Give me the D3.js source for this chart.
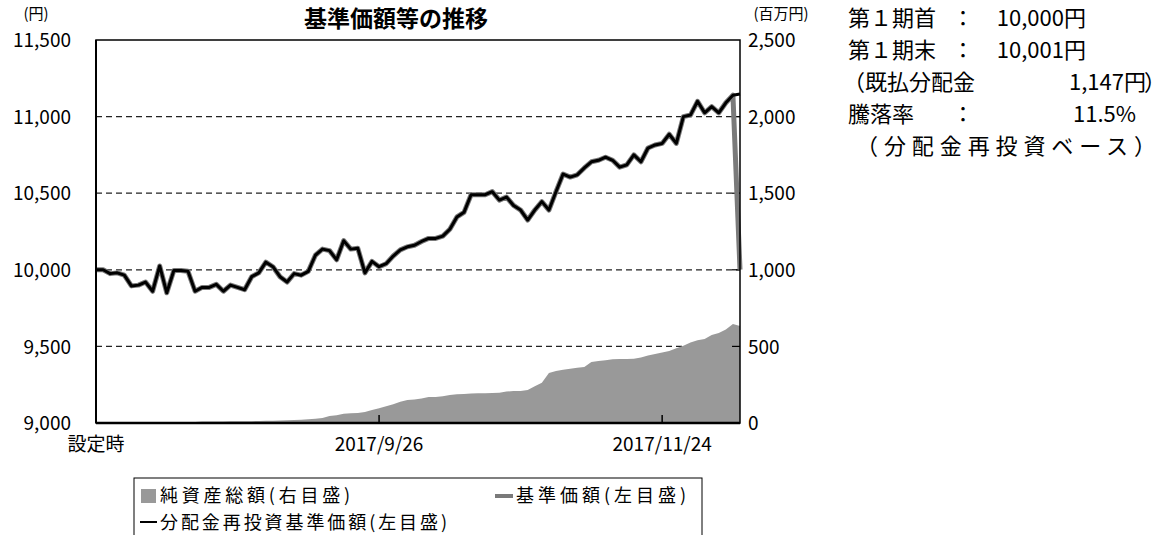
<!DOCTYPE html>
<html>
<head>
<meta charset="utf-8">
<script src="https://cdn.jsdelivr.net/npm/d3@7"></script>
<style>
  body { margin: 0; background: #ffffff; }
  text { font-family: "Noto Sans CJK JP", sans-serif; fill: #000; }
</style>
</head>
<body>
<div id="chart"></div>
<script>
// 分配金再投資基準価額（左目盛）
var navReinvest = [
	10000, 10000, 9975, 9980, 9965, 9895, 9900, 9920, 9860, 10025,
	9850, 9995, 9995, 9990, 9860, 9885, 9885, 9905, 9860, 9900,
	9885, 9870, 9955, 9980, 10050, 10020, 9955, 9920, 9975, 9965,
	9990, 10095, 10135, 10125, 10065, 10190, 10135, 10140, 9980, 10055,
	10020, 10040, 10090, 10130, 10150, 10160, 10185, 10205, 10205, 10220,
	10265, 10345, 10375, 10490, 10490, 10490, 10510, 10455, 10475, 10420,
	10390, 10325, 10390, 10445, 10390, 10510, 10625, 10605, 10620, 10665,
	10705, 10715, 10735, 10715, 10670, 10685, 10750, 10705, 10795, 10815,
	10825, 10885, 10825, 11000, 11010, 11100, 11025, 11065, 11025, 11090,
	11140, 11148
];
// 基準価額（左目盛）
var navBase = [
	10000, 10000, 9975, 9980, 9965, 9895, 9900, 9920, 9860, 10025,
	9850, 9995, 9995, 9990, 9860, 9885, 9885, 9905, 9860, 9900,
	9885, 9870, 9955, 9980, 10050, 10020, 9955, 9920, 9975, 9965,
	9990, 10095, 10135, 10125, 10065, 10190, 10135, 10140, 9980, 10055,
	10020, 10040, 10090, 10130, 10150, 10160, 10185, 10205, 10205, 10220,
	10265, 10345, 10375, 10490, 10490, 10490, 10510, 10455, 10475, 10420,
	10390, 10325, 10390, 10445, 10390, 10510, 10625, 10605, 10620, 10665,
	10705, 10715, 10735, 10715, 10670, 10685, 10750, 10705, 10795, 10815,
	10825, 10885, 10825, 11000, 11010, 11100, 11025, 11065, 11025, 11090,
	11140, 10001
];
// 純資産総額（右目盛, 百万円）
var netAssets = [
	0, 1, 1, 2, 2, 2, 3, 3, 3, 4,
	4, 5, 5, 6, 6, 9, 10, 10, 10, 11,
	11, 12, 12, 13, 14, 15, 16, 18, 20, 22,
	25, 28, 32, 45, 50, 60, 64, 66, 72, 85,
	97, 110, 122, 138, 150, 153, 160, 170, 170, 175,
	183, 187, 190, 192, 194, 195, 196, 197, 205, 209,
	209, 215, 240, 262, 326, 340, 348, 354, 360, 366,
	398, 405, 410, 416, 418, 418, 420, 428, 440, 450,
	460, 470, 488, 505, 525, 540, 548, 574, 587, 610,
	646, 633
];
var leftTicks = [9000, 9500, 10000, 10500, 11000, 11500];
var rightTicks = [0, 500, 1000, 1500, 2000, 2500];
var gridTicks = [9500, 10000, 10500, 11000];
var xLabels = [
	{"i": 0, "label": "設定時", "tick": false},
	{"i": 40, "label": "2017/9/26", "tick": true},
	{"i": 80, "label": "2017/11/24", "tick": true}
];
var infoLines = [
	["第１期首", "：", "10,000円"],
	["第１期末", "：", "10,001円"],
	["騰落率", "：", "11.5%"]
];

var width = 1169, height = 535;
var margin = {top: 40, right: 429, bottom: 112, left: 96};
var plotW = width - margin.left - margin.right,
	plotH = height - margin.top - margin.bottom;

var svg = d3.select("#chart").append("svg")
	.attr("width", width)
	.attr("height", height);

var g = svg.append("g")
	.attr("transform", "translate(" + margin.left + "," + margin.top + ")");

var x = d3.scaleLinear().domain([0, navReinvest.length - 1]).range([0, plotW]);
var yL = d3.scaleLinear().domain([9000, 11500]).range([plotH, 0]);
var yR = d3.scaleLinear().domain([0, 2500]).range([plotH, 0]);
var fmt = d3.format(",");

// gridlines
g.selectAll(".grid")
	.data(gridTicks)
	.enter()
	.append("line")
		.attr("x1", 0)
		.attr("x2", plotW)
		.attr("y1", d => yL(d))
		.attr("y2", d => yL(d))
		.attr("stroke", "#222")
		.attr("stroke-width", 1.2)
		.attr("stroke-dasharray", "6,4");

// 純資産総額 area
var area = d3.area()
	.x((d, i) => x(i))
	.y0(plotH)
	.y1(d => yR(d));
g.append("path")
	.datum(netAssets)
	.attr("d", area)
	.attr("fill", "#999999");

// right axis inward ticks
g.selectAll(".rtick")
	.data(rightTicks.slice(1, 5))
	.enter()
	.append("line")
		.attr("x1", plotW - 8)
		.attr("x2", plotW)
		.attr("y1", d => yR(d))
		.attr("y2", d => yR(d))
		.attr("stroke", "#000")
		.attr("stroke-width", 1.2);

// bottom inward ticks
g.selectAll(".btick")
	.data(xLabels.filter(d => d.tick))
	.enter()
	.append("line")
		.attr("x1", d => x(d.i))
		.attr("x2", d => x(d.i))
		.attr("y1", plotH - 8)
		.attr("y2", plotH)
		.attr("stroke", "#000")
		.attr("stroke-width", 1.5);

// lines
var lineL = d3.line()
	.x((d, i) => x(i))
	.y(d => yL(d));
g.append("path")
	.datum(navBase)
	.attr("d", lineL)
	.attr("fill", "none")
	.attr("stroke", "#7a7a7a")
	.attr("stroke-width", 5)
	.attr("stroke-linejoin", "round");
g.append("path")
	.datum(navReinvest)
	.attr("d", lineL)
	.attr("fill", "none")
	.attr("stroke", "#000")
	.attr("stroke-width", 3)
	.attr("stroke-linejoin", "round");

// frame
g.append("rect")
	.attr("x", 0)
	.attr("y", 0)
	.attr("width", plotW)
	.attr("height", plotH)
	.attr("fill", "none")
	.attr("stroke", "#000")
	.attr("stroke-width", 1.5);
g.append("line")
	.attr("x1", 0).attr("x2", plotW)
	.attr("y1", plotH).attr("y2", plotH)
	.attr("stroke", "#000")
	.attr("stroke-width", 2.5);
g.append("line")
	.attr("x1", 0).attr("x2", 0)
	.attr("y1", 0).attr("y2", plotH)
	.attr("stroke", "#000")
	.attr("stroke-width", 2);

// axis labels
g.selectAll(".lLabel")
	.data(leftTicks)
	.enter()
	.append("text")
		.attr("x", -25)
		.attr("y", d => yL(d))
		.attr("dy", "0.38em")
		.attr("text-anchor", "end")
		.attr("font-size", "19px")
		.text(d => fmt(d));

g.selectAll(".rLabel")
	.data(rightTicks)
	.enter()
	.append("text")
		.attr("x", plotW + 8)
		.attr("y", d => yR(d))
		.attr("dy", "0.38em")
		.attr("text-anchor", "start")
		.attr("font-size", "19px")
		.text(d => fmt(d));

g.selectAll(".xLabel")
	.data(xLabels)
	.enter()
	.append("text")
		.attr("x", d => x(d.i))
		.attr("y", plotH + 28)
		.attr("text-anchor", "middle")
		.attr("font-size", "19px")
		.text(d => d.label);

// units and title
svg.append("text")
	.attr("x", 36).attr("y", 19)
	.attr("text-anchor", "middle")
	.attr("font-size", "15px")
	.text("(円)");
svg.append("text")
	.attr("x", 781).attr("y", 19)
	.attr("text-anchor", "middle")
	.attr("font-size", "15px")
	.text("(百万円)");
svg.append("text")
	.attr("x", 396).attr("y", 27)
	.attr("text-anchor", "middle")
	.attr("font-size", "23px")
	.attr("font-weight", "bold")
	.text("基準価額等の推移");

// info block on the right
var info = svg.append("g");
var rows = [26, 58, 122];
infoLines.forEach(function(r, k) {
	info.append("text").attr("x", 848).attr("y", rows[k]).attr("font-size", "22px").text(r[0]);
	info.append("text").attr("x", 963).attr("y", rows[k]).attr("text-anchor", "middle").attr("font-size", "22px").text(r[1]);
	info.append("text").attr("x", k == 2 ? 1136 : 1086).attr("y", rows[k]).attr("text-anchor", "end").attr("font-size", "22px").text(r[2]);
});
info.append("text").attr("x", 843).attr("y", 90).attr("font-size", "22px").text("（既払分配金");
info.append("text").attr("x", 1146).attr("y", 90).attr("text-anchor", "end").attr("font-size", "22px").text("1,147円");
info.append("text").attr("x", 1144).attr("y", 90).attr("font-size", "22px").text("）");
info.append("text").attr("x", 856).attr("y", 154).attr("font-size", "22px")
	.attr("textLength", 300).attr("lengthAdjust", "spacing")
	.text("（分配金再投資ベース）");

// legend
var lg = svg.append("g");
lg.append("rect")
	.attr("x", 134).attr("y", 478)
	.attr("width", 568).attr("height", 70)
	.attr("fill", "#fff")
	.attr("stroke", "#000")
	.attr("stroke-width", 1);
lg.append("rect")
	.attr("x", 141).attr("y", 489)
	.attr("width", 15).attr("height", 14)
	.attr("fill", "#999999");
lg.append("text").attr("x", 160).attr("y", 502).attr("font-size", "18px")
	.attr("textLength", 190).attr("lengthAdjust", "spacing").text("純資産総額(右目盛)");
lg.append("line")
	.attr("x1", 495).attr("x2", 513)
	.attr("y1", 496).attr("y2", 496)
	.attr("stroke", "#7a7a7a").attr("stroke-width", 4);
lg.append("text").attr("x", 516).attr("y", 502).attr("font-size", "18px")
	.attr("textLength", 170).attr("lengthAdjust", "spacing").text("基準価額(左目盛)");
lg.append("line")
	.attr("x1", 140).attr("x2", 157)
	.attr("y1", 522).attr("y2", 522)
	.attr("stroke", "#000").attr("stroke-width", 2);
lg.append("text").attr("x", 160).attr("y", 529).attr("font-size", "18px")
	.attr("textLength", 287).attr("lengthAdjust", "spacing").text("分配金再投資基準価額(左目盛)");
</script>
</body>
</html>
